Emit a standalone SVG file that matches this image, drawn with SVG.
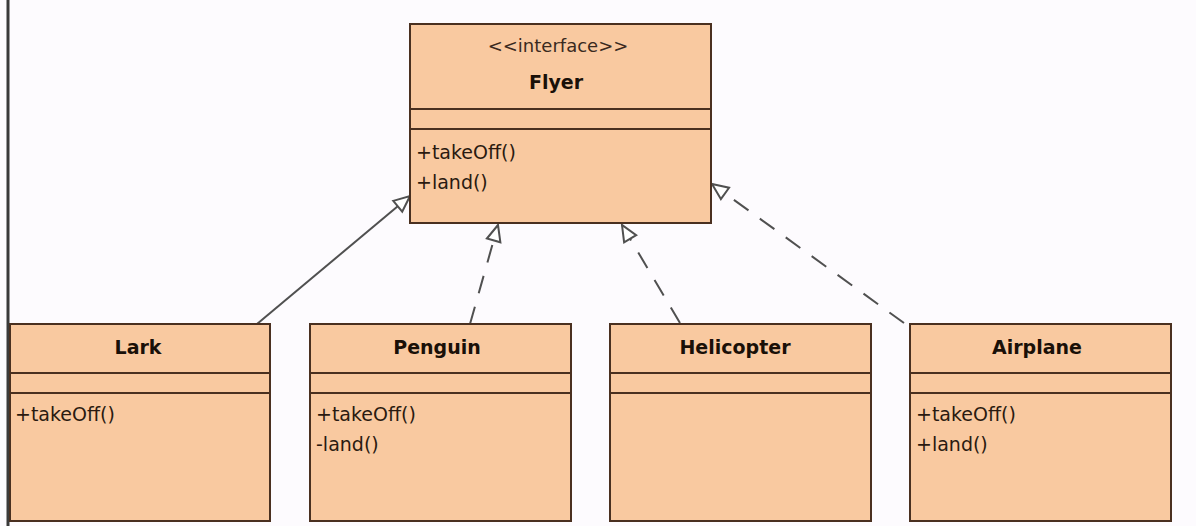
<svg xmlns="http://www.w3.org/2000/svg" width="1196" height="526" viewBox="0 0 1196 526">
<style>
.box{fill:#F9C9A0;stroke:#4a3020;stroke-width:2}
.sep{stroke:#4a3020;stroke-width:2}
.name{font-family:"DejaVu Sans",Verdana,sans-serif;font-weight:bold;font-size:19px;fill:#1a1008;text-anchor:middle}
.st{font-family:"DejaVu Sans",Verdana,sans-serif;font-size:18px;fill:#3a2a20;text-anchor:middle}
.m{font-family:"DejaVu Sans",Verdana,sans-serif;font-size:19px;fill:#2a1a10}
.c{fill:none;stroke:#505050;stroke-width:2}
.d{stroke-dasharray:18,14}
</style>
<defs>
<marker id="tri" markerUnits="userSpaceOnUse" markerWidth="20" markerHeight="20" viewBox="0 0 20 20" refX="18" refY="10" orient="auto">
<path d="M2,3 L18,10 L2,17 Z" fill="#fff" stroke="#505050" stroke-width="2"/>
</marker>
</defs>
<rect width="1196" height="526" fill="#FDFBFE"/>
<line x1="8" y1="0" x2="8" y2="526" stroke="#3a3a3a" stroke-width="3"/>
<g id="connectors">
<line class="c" x1="257" y1="324" x2="410" y2="196" marker-end="url(#tri)"/>
<line class="c d" x1="470" y1="324" x2="498" y2="225" marker-end="url(#tri)"/>
<line class="c d" x1="680" y1="323" x2="622" y2="225" marker-end="url(#tri)"/>
<line class="c d" x1="904" y1="323" x2="712" y2="184" marker-end="url(#tri)"/>
</g>
<g id="Flyer">
<rect class="box" x="410" y="24" width="301" height="199"/>
<line class="sep" x1="410" y1="109" x2="711" y2="109"/>
<line class="sep" x1="410" y1="129" x2="711" y2="129"/>
<text class="st" x="558" y="52">&lt;&lt;interface&gt;&gt;</text>
<text class="name" x="556" y="89">Flyer</text>
<text class="m" x="416" y="159">+takeOff()</text>
<text class="m" x="416" y="189">+land()</text>
</g>
<g id="Lark">
<rect class="box" x="10" y="324" width="260" height="197"/>
<line class="sep" x1="10" y1="373" x2="270" y2="373"/>
<line class="sep" x1="10" y1="393" x2="270" y2="393"/>
<text class="name" x="138" y="354">Lark</text>
<text class="m" x="15" y="421">+takeOff()</text>
</g>
<g id="Penguin">
<rect class="box" x="310" y="324" width="261" height="197"/>
<line class="sep" x1="310" y1="373" x2="571" y2="373"/>
<line class="sep" x1="310" y1="393" x2="571" y2="393"/>
<text class="name" x="437" y="354">Penguin</text>
<text class="m" x="316" y="421">+takeOff()</text>
<text class="m" x="316" y="451">-land()</text>
</g>
<g id="Helicopter">
<rect class="box" x="610" y="324" width="261" height="197"/>
<line class="sep" x1="610" y1="373" x2="871" y2="373"/>
<line class="sep" x1="610" y1="393" x2="871" y2="393"/>
<text class="name" x="735" y="354">Helicopter</text>
</g>
<g id="Airplane">
<rect class="box" x="910" y="324" width="261" height="197"/>
<line class="sep" x1="910" y1="373" x2="1171" y2="373"/>
<line class="sep" x1="910" y1="393" x2="1171" y2="393"/>
<text class="name" x="1037" y="354">Airplane</text>
<text class="m" x="916" y="421">+takeOff()</text>
<text class="m" x="916" y="451">+land()</text>
</g>
</svg>
